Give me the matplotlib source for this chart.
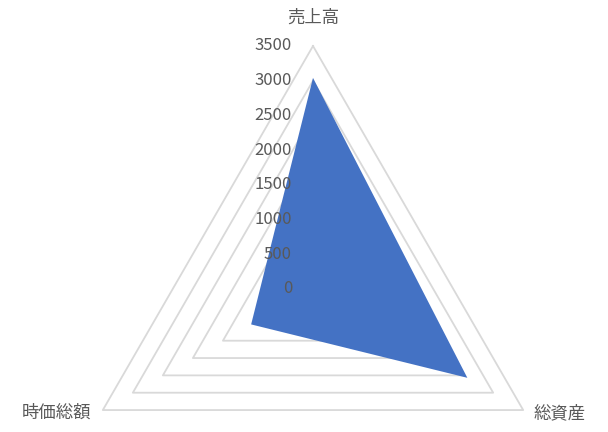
import numpy as np
import matplotlib
matplotlib.use("Agg")
from matplotlib import pyplot as plt

plt.rcParams['font.family'] = ['Noto Sans CJK JP', 'DejaVu Sans']

categories = ['売上高', '総資産', '時価総額']
values = [3040, 2570, 1030]
levels = [0, 500, 1000, 1500, 2000, 2500, 3000, 3500]
r_max = 3500

grid_color = '#D9D9D9'
text_color = '#595959'
fill_color = '#4472C4'

# angles: first axis straight up, then clockwise
angles = np.pi / 2 - np.arange(len(categories)) * 2 * np.pi / len(categories)


def to_xy(radii):
    radii = np.asarray(radii, dtype=float)
    return radii * np.cos(angles), radii * np.sin(angles)


fig = plt.figure(figsize=(6.08, 4.32), dpi=100)
ax = fig.add_axes([0, 0, 1, 1])
ax.set_axis_off()

# pixel layout: center at (313, 288.7), max radius 242.7 px
scale = 242.7 / r_max
cx, cy = 313, 432 - 288.7
ax.set_xlim(-cx / scale, (608 - cx) / scale)
ax.set_ylim(-cy / scale, (432 - cy) / scale)

for lv in levels[1:]:
    gx, gy = to_xy([lv] * len(categories))
    ax.plot(np.append(gx, gx[0]), np.append(gy, gy[0]), color=grid_color, lw=1.3, zorder=1)

vx, vy = to_xy(values)
ax.fill(vx, vy, color=fill_color, zorder=2, lw=0)

for lv in levels:
    ax.text(-21 / scale, lv, str(lv), ha='right', va='center', fontsize=12,
            color=text_color, zorder=3)

ox, oy = to_xy([r_max] * len(categories))
ax.text(ox[0], oy[0] + 28 / scale, categories[0], ha='center', va='center',
        fontsize=12.5, color=text_color)
ax.text(ox[1] + 10 / scale, oy[1] - 3 / scale, categories[1], ha='left', va='center',
        fontsize=12.5, color=text_color)
ax.text(ox[2] - 12 / scale, oy[2] - 3 / scale, categories[2], ha='right', va='center',
        fontsize=12.5, color=text_color)

fig.savefig('out.png', dpi=100)
